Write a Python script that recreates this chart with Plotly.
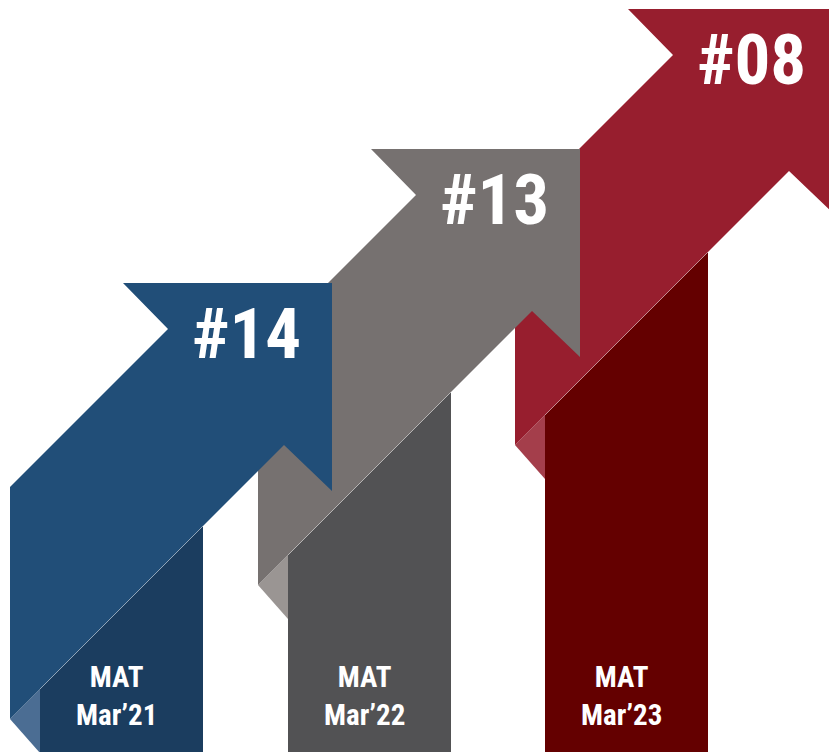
import plotly.graph_objects as go

# ---- data ----
ranks = [14, 13, 8]
periods = ["Mar\u201921", "Mar\u201922", "Mar\u201923"]
period_prefix = ["MAT", "MAT", "MAT"]

# ---- styles ----
band_colors = ["#214E78", "#767170", "#971E2E"]
bar_colors = ["#1B3D5F", "#525254", "#640000"]
fold_colors = ["#4B6D93", "#9A9593", "#A43E4B"]

W, H = 829, 752
# layout of the staircase (left edge and top of each arrow, in pixel axes)
step_left = [10, 258, 515]
step_top = [283, 149, 9]

BAND = [(113, 0), (322, 0), (322, 208), (274, 162), (0, 436), (0, 204), (158, 46)]
FOLD = [(0, 436), (30, 406), (30, 470)]


def path(pts):
    return "M " + " L ".join(f"{x:.1f},{y:.1f}" for x, y in pts) + " Z"


fig = go.Figure()
fig.add_trace(go.Scatter(x=[0, W], y=[0, H], mode="markers",
                         marker=dict(opacity=0), hoverinfo="skip", showlegend=False))

shapes = []
annotations = []
n = len(ranks)
FONT = "Roboto Condensed, Liberation Sans Narrow, DejaVu Sans Condensed, Roboto"
# draw last (highest) first so earlier arrows overlap later ones
for i in reversed(range(n)):
    L = step_left[i]
    T = step_top[i]
    bar = [(L + 30, T + 406), (L + 193, T + 243), (L + 193, H + 5), (L + 30, H + 5)]
    shapes.append(dict(type="path", path=path(bar), xref="x", yref="y",
                       fillcolor=bar_colors[i], line=dict(width=0), layer="above"))
    shapes.append(dict(type="path", path=path([(L + x, T + y) for x, y in FOLD]),
                       xref="x", yref="y", fillcolor=fold_colors[i], line=dict(width=0), layer="above"))
    shapes.append(dict(type="path", path=path([(L + x, T + y) for x, y in BAND]),
                       xref="x", yref="y", fillcolor=band_colors[i], line=dict(width=0), layer="above"))
    shapes.append(dict(type="line", x0=L + 30, y0=T + 406, x1=L + 193, y1=T + 243,
                       xref="x", yref="y", line=dict(color="rgba(255,255,255,0.35)", width=1),
                       layer="above"))

for i in range(n):
    L = step_left[i]
    T = step_top[i]
    annotations.append(dict(x=L + 236, y=T + 50, xref="x", yref="y",
                            text=f"#{ranks[i]:02d}", showarrow=False,
                            font=dict(family=FONT, size=71, color="white", weight="bold"),
                            xanchor="center", yanchor="middle"))
    annotations.append(dict(x=L + 106, y=696, xref="x", yref="y",
                            text=f"{period_prefix[i]}<br>{periods[i]}", showarrow=False,
                            font=dict(family=FONT, size=29, color="white", weight="bold"),
                            xanchor="center", yanchor="middle", align="center"))

fig.update_layout(
    width=W, height=H,
    margin=dict(l=0, r=0, t=0, b=0),
    paper_bgcolor="white", plot_bgcolor="white",
    xaxis=dict(range=[0, W], visible=False, fixedrange=True),
    yaxis=dict(range=[H, 0], visible=False, fixedrange=True),
    shapes=shapes, annotations=annotations,
    showlegend=False,
)

fig.write_html("out.html", config={"displayModeBar": False})
